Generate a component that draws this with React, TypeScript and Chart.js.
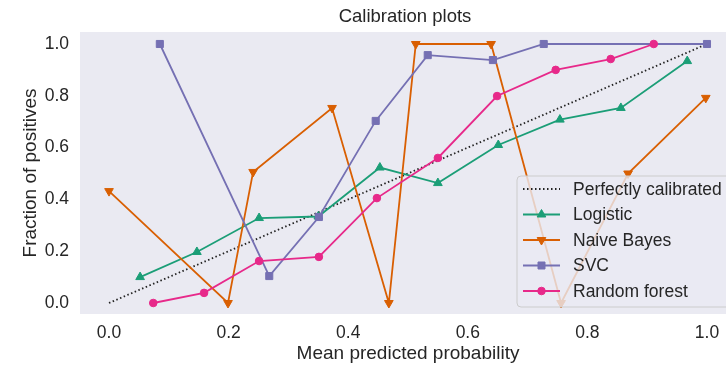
import React, { useEffect, useRef } from "react";
import { Chart, registerables } from "chart.js";

Chart.register(...registerables);

const TITLE = "Calibration plots";
const X_LABEL = "Mean predicted probability";
const Y_LABEL = "Fraction of positives";

const xTicks = [0.0, 0.2, 0.4, 0.6, 0.8, 1.0];
const yTicks = [0.0, 0.2, 0.4, 0.6, 0.8, 1.0];

const perfectX = [0, 1];
const perfectY = [0, 1];

const logisticX = [0.052, 0.147, 0.251, 0.35, 0.453, 0.55, 0.651, 0.754, 0.856, 0.967];
const logisticY = [0.1, 0.197, 0.328, 0.334, 0.523, 0.463, 0.61, 0.708, 0.753, 0.934];

const nbX = [0.0, 0.199, 0.241, 0.373, 0.468, 0.513, 0.639, 0.756, 0.868, 0.998];
const nbY = [0.432, 0.0, 0.506, 0.753, 0.0, 1.0, 1.0, 0.0, 0.5, 0.792];

const svcX = [0.085, 0.268, 0.351, 0.446, 0.533, 0.642, 0.727, 1.0];
const svcY = [1.0, 0.104, 0.332, 0.703, 0.957, 0.938, 1.0, 1.0];

const rfX = [0.074, 0.159, 0.251, 0.351, 0.448, 0.55, 0.649, 0.747, 0.839, 0.911];
const rfY = [0.0, 0.039, 0.162, 0.178, 0.405, 0.56, 0.799, 0.9, 0.942, 1.0];

const seriesNames = ["Perfectly calibrated", "Logistic", "Naive Bayes", "SVC", "Random forest"];
const seriesColors = ["#222222", "#1b9e77", "#d95f02", "#7570b3", "#e7298a"];

const TEXT = "#262626";
const FONT = "'Liberation Sans', Arial, sans-serif";

const zip = (xs: number[], ys: number[]) => xs.map((x, i) => ({ x, y: ys[i] }));

function drawMarker(ctx: CanvasRenderingContext2D, kind: string, x: number, y: number, color: string) {
  ctx.save();
  ctx.fillStyle = color;
  ctx.strokeStyle = color;
  ctx.lineWidth = 1;
  ctx.beginPath();
  if (kind === "triUp") {
    const r = 5;
    ctx.moveTo(x, y - r);
    ctx.lineTo(x + r * 0.866, y + r * 0.5);
    ctx.lineTo(x - r * 0.866, y + r * 0.5);
    ctx.closePath();
  } else if (kind === "triDown") {
    const r = 5;
    ctx.moveTo(x, y + r);
    ctx.lineTo(x + r * 0.866, y - r * 0.5);
    ctx.lineTo(x - r * 0.866, y - r * 0.5);
    ctx.closePath();
  } else if (kind === "rect") {
    ctx.rect(x - 3.5, y - 3.5, 7, 7);
  } else if (kind === "circle") {
    ctx.arc(x, y, 3.8, 0, Math.PI * 2);
  }
  ctx.fill();
  ctx.stroke();
  ctx.restore();
}

const markerKinds = ["none", "triUp", "triDown", "rect", "circle"];

const textPlugin = {
  id: "customTexts",
  beforeDraw(chart: any) {
    const { ctx, chartArea } = chart;
    ctx.save();
    ctx.fillStyle = "#EAEAF2";
    ctx.fillRect(chartArea.left, chartArea.top, chartArea.right - chartArea.left, chartArea.bottom - chartArea.top);
    ctx.restore();
  },
  afterDraw(chart: any) {
    const { ctx, chartArea } = chart;
    ctx.save();
    ctx.fillStyle = TEXT;
    ctx.textAlign = "center";
    ctx.textBaseline = "middle";
    ctx.font = `18.5px ${FONT}`;
    ctx.fillText(TITLE, 405, 17);
    ctx.font = `19px ${FONT}`;
    ctx.fillText(X_LABEL, 408, 354);
    ctx.translate(31, (chartArea.top + chartArea.bottom) / 2);
    ctx.rotate(-Math.PI / 2);
    ctx.fillText(Y_LABEL, 0, 0);
    ctx.restore();

    // legend
    const lx = 517, ly = 176, lw = 220, lh = 131;
    ctx.save();
    ctx.beginPath();
    const r = 4;
    ctx.moveTo(lx + r, ly);
    ctx.lineTo(lx + lw - r, ly);
    ctx.arcTo(lx + lw, ly, lx + lw, ly + r, r);
    ctx.lineTo(lx + lw, ly + lh - r);
    ctx.arcTo(lx + lw, ly + lh, lx + lw - r, ly + lh, r);
    ctx.lineTo(lx + r, ly + lh);
    ctx.arcTo(lx, ly + lh, lx, ly + lh - r, r);
    ctx.lineTo(lx, ly + r);
    ctx.arcTo(lx, ly, lx + r, ly, r);
    ctx.closePath();
    ctx.fillStyle = "rgba(234,234,242,0.8)";
    ctx.fill();
    ctx.strokeStyle = "#cccccc";
    ctx.lineWidth = 1;
    ctx.stroke();
    ctx.restore();

    const rowY = [189, 214.5, 240, 265.5, 291];
    seriesNames.forEach((name, i) => {
      const y = rowY[i];
      ctx.save();
      ctx.strokeStyle = seriesColors[i];
      ctx.lineWidth = 1.8;
      if (i === 0) ctx.setLineDash([1.5, 2.5]);
      ctx.beginPath();
      ctx.moveTo(523, y);
      ctx.lineTo(560, y);
      ctx.stroke();
      ctx.restore();
      if (markerKinds[i] !== "none") drawMarker(ctx, markerKinds[i], 541.5, y, seriesColors[i]);
      ctx.save();
      ctx.fillStyle = TEXT;
      ctx.font = `17.5px ${FONT}`;
      ctx.textAlign = "left";
      ctx.textBaseline = "middle";
      ctx.fillText(name, 573, y + 1);
      ctx.restore();
    });
  },
};

export default function App() {
  const ref = useRef<HTMLCanvasElement | null>(null);
  useEffect(() => {
    if (!ref.current) return;
    const xs = [perfectX, logisticX, nbX, svcX, rfX];
    const ys = [perfectY, logisticY, nbY, svcY, rfY];
    const styles = ["circle", "triangle", "triangle", "rect", "circle"];
    const radii = [0, 5, 5, 5, 3.8];
    const rotations = [0, 0, 180, 0, 0];
    const datasets = seriesNames.map((name, i) => ({
      label: name,
      data: zip(xs[i], ys[i]),
      borderColor: seriesColors[i],
      backgroundColor: seriesColors[i],
      borderWidth: 1.8,
      borderDash: i === 0 ? [1.5, 2.5] : [],
      pointStyle: styles[i],
      pointRadius: radii[i],
      pointRotation: rotations[i],
      pointBorderWidth: 1,
      pointHoverRadius: radii[i],
      tension: 0,
      fill: false,
      order: seriesNames.length - 1 - i,
      clip: false as any,
    }));
    const chart = new Chart(ref.current, {
      type: "line",
      data: { datasets },
      plugins: [textPlugin],
      options: {
        animation: false,
        responsive: false,
        maintainAspectRatio: false,
        layout: { autoPadding: false, padding: { top: 32, right: 0, left: 0, bottom: 0 } },
        plugins: { legend: { display: false }, tooltip: { enabled: false }, title: { display: false } },
        scales: {
          x: {
            type: "linear",
            min: -0.0485,
            max: 1.0318,
            border: { display: false },
            grid: { display: false, drawTicks: false },
            afterBuildTicks: (scale: any) => {
              scale.ticks = xTicks.map((v) => ({ value: v }));
            },
            afterFit: (scale: any) => {
              scale.height = 53;
              scale.paddingLeft = 0;
              scale.paddingRight = 0;
            },
            ticks: {
              color: TEXT,
              font: { family: FONT, size: 17.5 },
              padding: 9,
              maxRotation: 0,
              autoSkip: false,
              callback: (v: any) => Number(v).toFixed(1),
            },
          },
          y: {
            type: "linear",
            min: -0.0425,
            max: 1.0463,
            border: { display: false },
            grid: { display: false, drawTicks: false },
            afterBuildTicks: (scale: any) => {
              scale.ticks = yTicks.map((v) => ({ value: v }));
            },
            afterFit: (scale: any) => {
              scale.width = 80;
              scale.paddingTop = 0;
              scale.paddingBottom = 0;
            },
            ticks: {
              color: TEXT,
              font: { family: FONT, size: 17.5 },
              padding: 11,
              autoSkip: false,
              callback: (v: any) => Number(v).toFixed(1),
            },
          },
        },
      },
    });
    return () => chart.destroy();
  }, []);
  return (
    <div style={{ position: "fixed", left: 0, top: 0, width: 726, height: 367, background: "#ffffff" }}>
      <canvas ref={ref} width={726} height={367} style={{ display: "block" }} />
    </div>
  );
}
